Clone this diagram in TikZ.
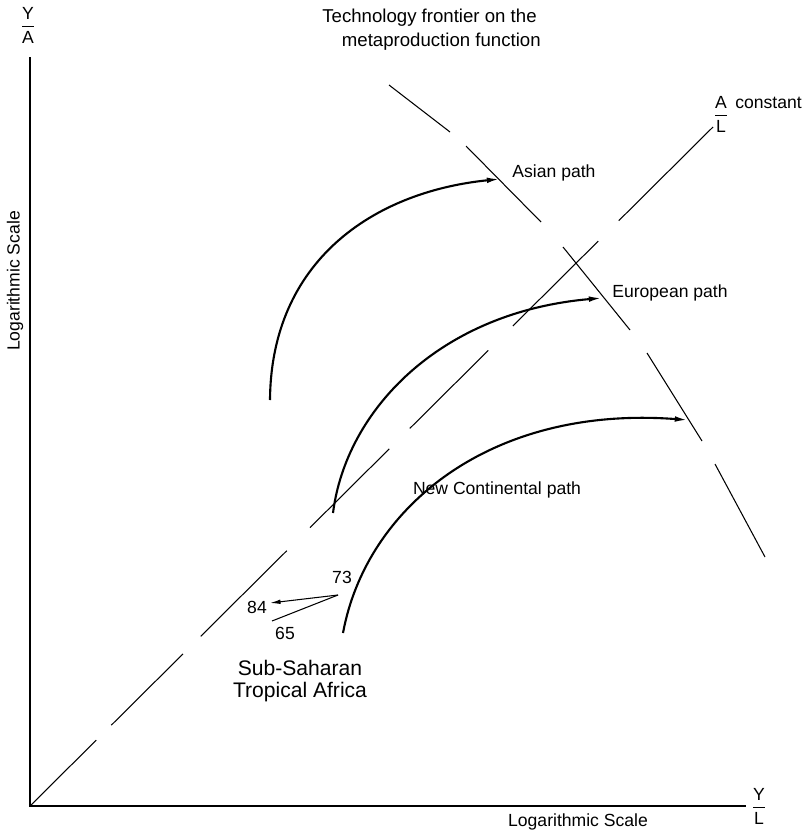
\documentclass[tikz,border=0pt]{standalone}
\usepackage{fontspec}
\setmainfont{Liberation Sans}
\usetikzlibrary{arrows.meta,calc}

\newcommand{\ratiolab}[2]{$\displaystyle\frac{\mbox{#1}}{\mbox{#2}}$}

\begin{document}
\begin{tikzpicture}[x=0.02cm,y=-0.02cm]
   \tikzstyle{every node}=[font=\fontsize{10}{13}\selectfont, inner sep=0pt]
   \tikzstyle{axis}=[line width=0.9pt]
   \tikzstyle{thin line}=[line width=0.6pt]
   \tikzstyle{growth path}=[line width=1.2pt, -{Latex[length=7.5pt,width=3.2pt]}]
   \useasboundingbox (0,0) rectangle (807,835);

% axes
\coordinate (O) at (30,806);
\coordinate (yTop) at (30,57);
\coordinate (xEnd) at (746,806);
\draw[axis] (yTop) -- (O) -- (xEnd);
\node (yA) at (28,25) {\ratiolab{Y}{A}};
\node (yL) at (759,806) {\ratiolab{Y}{L}};
\node[rotate=90] (yScale) at (15,281) {Logarithmic Scale};
\node (xScale) at (578,822) {Logarithmic Scale};

% A/L constant ray
\coordinate (rayEnd) at (713,127);
\foreach \s/\e in {0/0.097, 0.119/0.224, 0.250/0.376, 0.410/0.526, 0.556/0.671, 0.707/0.832, 0.862/1}
    \draw[thin line] ($(O)!\s!(rayEnd)$) -- ($(O)!\e!(rayEnd)$);
\node (alLab) at (721,114) {\ratiolab{A}{L}};
\node[anchor=base west] (constLab) at (735,108) {constant};

% technology frontier
\foreach \xa/\ya/\xb/\yb in {389/85/450/132, 466/146/541/222, 563/247/630/330, 647/353/702/441, 715/464/765/557}
    \draw[thin line] (\xa,\ya) -- (\xb,\yb);
\node[align=left, anchor=north west, font=\fontsize{10.6}{13.6}\selectfont] (frontierLab) at (322,9)
    {Technology frontier on the\\\hspace*{1.05em}metaproduction function};

% growth paths
\coordinate (asiaStart) at (270,400);
\coordinate (asiaEnd) at (500,179);
\draw[growth path] (asiaStart) .. controls (271,262) and (372,192) .. (asiaEnd);
\node (asiaLab) at (554,173) {Asian path};

\coordinate (euroStart) at (333,513);
\coordinate (euroEnd) at (602,298);
\draw[growth path] (euroStart) .. controls (346,410) and (440,312) .. (euroEnd);
\node (euroLab) at (670,293) {European path};

\coordinate (ncStart) at (343,633);
\coordinate (ncEnd) at (688,420);
\draw[growth path] (ncStart) .. controls (366,508) and (490,405) .. (ncEnd);
\node (ncLab) at (497,490) {New Continental path};

% Africa
\coordinate (af73) at (338,595);
\coordinate (af84) at (270,603);
\coordinate (af65) at (272,621);
\draw[thin line, -{Latex[length=6pt,width=2.6pt]}] (af73) -- (af84);
\draw[thin line] (af73) -- (af65);
\node (n73) at (342,577) {73};
\node (n84) at (257,607) {84};
\node (n65) at (285,633) {65};
\node[align=center, font=\fontsize{12}{12.8}\selectfont] (africaLab) at (300,681) {Sub-Saharan\\Tropical Africa};

\end{tikzpicture}
\end{document}
